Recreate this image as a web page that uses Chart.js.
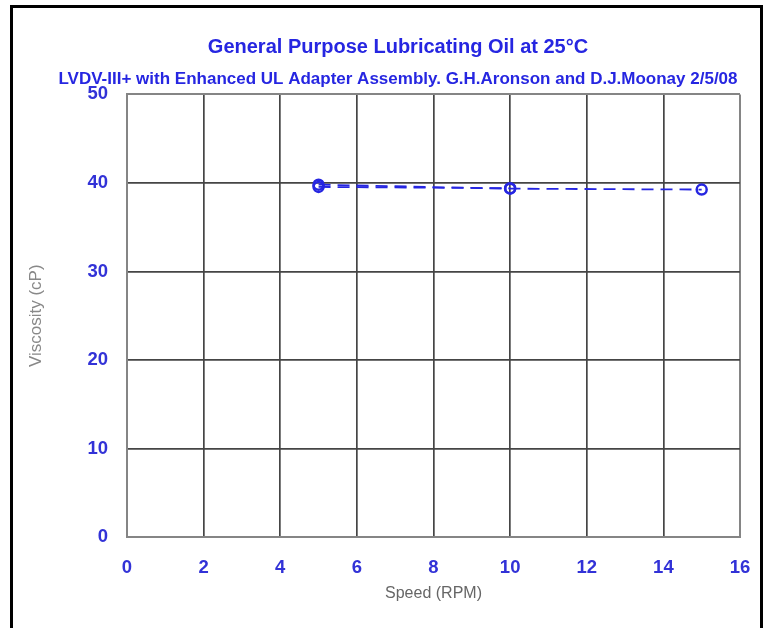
<!DOCTYPE html>
<html>
<head>
<meta charset="utf-8">
<script src="https://cdn.jsdelivr.net/npm/chart.js@4.4.1/dist/chart.umd.min.js"></script>
<style>
  html, body { margin: 0; padding: 0; background: #fff; }
  #wrap { position: relative; width: 767px; height: 628px; overflow: hidden; }
  #frame { position: absolute; left: 10px; top: 5px; width: 753px; height: 700px; box-sizing: border-box; border: 3px solid #000; pointer-events: none; }
  canvas { position: absolute; left: 0; top: 0; }
</style>
</head>
<body>
<div id="wrap">
  <canvas id="c" width="767" height="628"></canvas>
  <div id="frame"></div>
</div>
<script>
const titleText = "General Purpose Lubricating Oil at 25°C";
const subtitleText = "LVDV-III+ with Enhanced UL Adapter Assembly. G.H.Aronson and D.J.Moonay 2/5/08";
const xTitle = "Speed (RPM)";
const yTitle = "Viscosity (cP)";
const xTicks = [0, 2, 4, 6, 8, 10, 12, 14, 16];
const yTicks = [0, 10, 20, 30, 40, 50];
const speedUp = [5, 10, 15];
const viscUp = [39.8, 39.35, 39.25];
const speedDown = [5, 10];
const viscDown = [39.55, 39.4];

const BLUE = "rgb(38,38,225)";
const TICKBLUE = "rgb(50,50,215)";
const FONT = "'Liberation Sans', Arial, sans-serif";

function pts(xs, ys) { return xs.map((x, i) => ({ x: x, y: ys[i] })); }

const dsStyle = {
  showLine: true,
  borderColor: BLUE,
  borderWidth: 1.8,
  borderDash: [12, 7],
  pointStyle: 'circle',
  pointRadius: 5,
  pointBorderWidth: 2.5,
  pointBorderColor: BLUE,
  pointBackgroundColor: 'rgba(255,255,255,0)',
  fill: false,
  tension: 0
};

new Chart(document.getElementById('c'), {
  type: 'scatter',
  data: {
    datasets: [
      Object.assign({ label: 'up', data: pts(speedUp, viscUp) }, dsStyle),
      Object.assign({ label: 'down', data: pts(speedDown, viscDown) }, dsStyle)
    ]
  },
  options: {
    responsive: false,
    animation: false,
    devicePixelRatio: 1,
    layout: { padding: { left: 29, right: 0, top: 0, bottom: 0 } },
    plugins: {
      legend: { display: false },
      tooltip: { enabled: false },
      title: {
        display: true, text: titleText, color: BLUE,
        font: { family: FONT, size: 20, weight: 'bold' },
        padding: { top: 35, bottom: 10 }
      },
      subtitle: {
        display: true, text: subtitleText, color: BLUE,
        font: { family: FONT, size: 17, weight: 'bold' },
        padding: { top: 0, bottom: 5 }
      }
    },
    scales: {
      x: {
        type: 'linear', min: xTicks[0], max: xTicks[xTicks.length - 1],
        afterBuildTicks: s => { s.ticks = xTicks.map(v => ({ value: v })); },
        afterFit: s => { s.height = 91; s.paddingLeft = 0; s.paddingRight = 0; },
        grid: {
          drawTicks: false,
          color: ctx => (ctx.tick && (ctx.tick.value === 0 || ctx.tick.value === 16)) ? '#858585' : '#454545',
          lineWidth: ctx => (ctx.tick && (ctx.tick.value === 0 || ctx.tick.value === 16)) ? 2 : 1.7
        },
        border: { display: true, color: '#858585', width: 2 },
        ticks: { color: TICKBLUE, font: { family: FONT, size: 18.5, weight: 'bold' }, padding: 20 },
        title: { display: true, text: xTitle, color: '#666', font: { family: FONT, size: 16 }, padding: { top: 0, bottom: 25 } }
      },
      y: {
        type: 'linear', min: yTicks[0], max: yTicks[yTicks.length - 1],
        afterBuildTicks: s => { s.ticks = yTicks.map(v => ({ value: v })); },
        afterFit: s => { s.width = 98; },
        grid: {
          drawTicks: false,
          color: ctx => (ctx.tick && (ctx.tick.value === 0 || ctx.tick.value === 50)) ? '#858585' : '#454545',
          lineWidth: ctx => (ctx.tick && (ctx.tick.value === 0 || ctx.tick.value === 50)) ? 2 : 1.7
        },
        border: { display: true, color: '#858585', width: 2 },
        ticks: { color: TICKBLUE, font: { family: FONT, size: 18.5, weight: 'bold' }, padding: 19 },
        title: { display: true, text: yTitle, color: '#888', font: { family: FONT, size: 17 }, padding: { top: -3, bottom: 0 } }
      },
      yR: {
        type: 'linear', position: 'right', display: true,
        afterFit: s => { s.width = 27; },
        grid: { display: false, drawTicks: false },
        border: { display: false },
        ticks: { display: false }
      }
    }
  }
});
</script>
</body>
</html>
